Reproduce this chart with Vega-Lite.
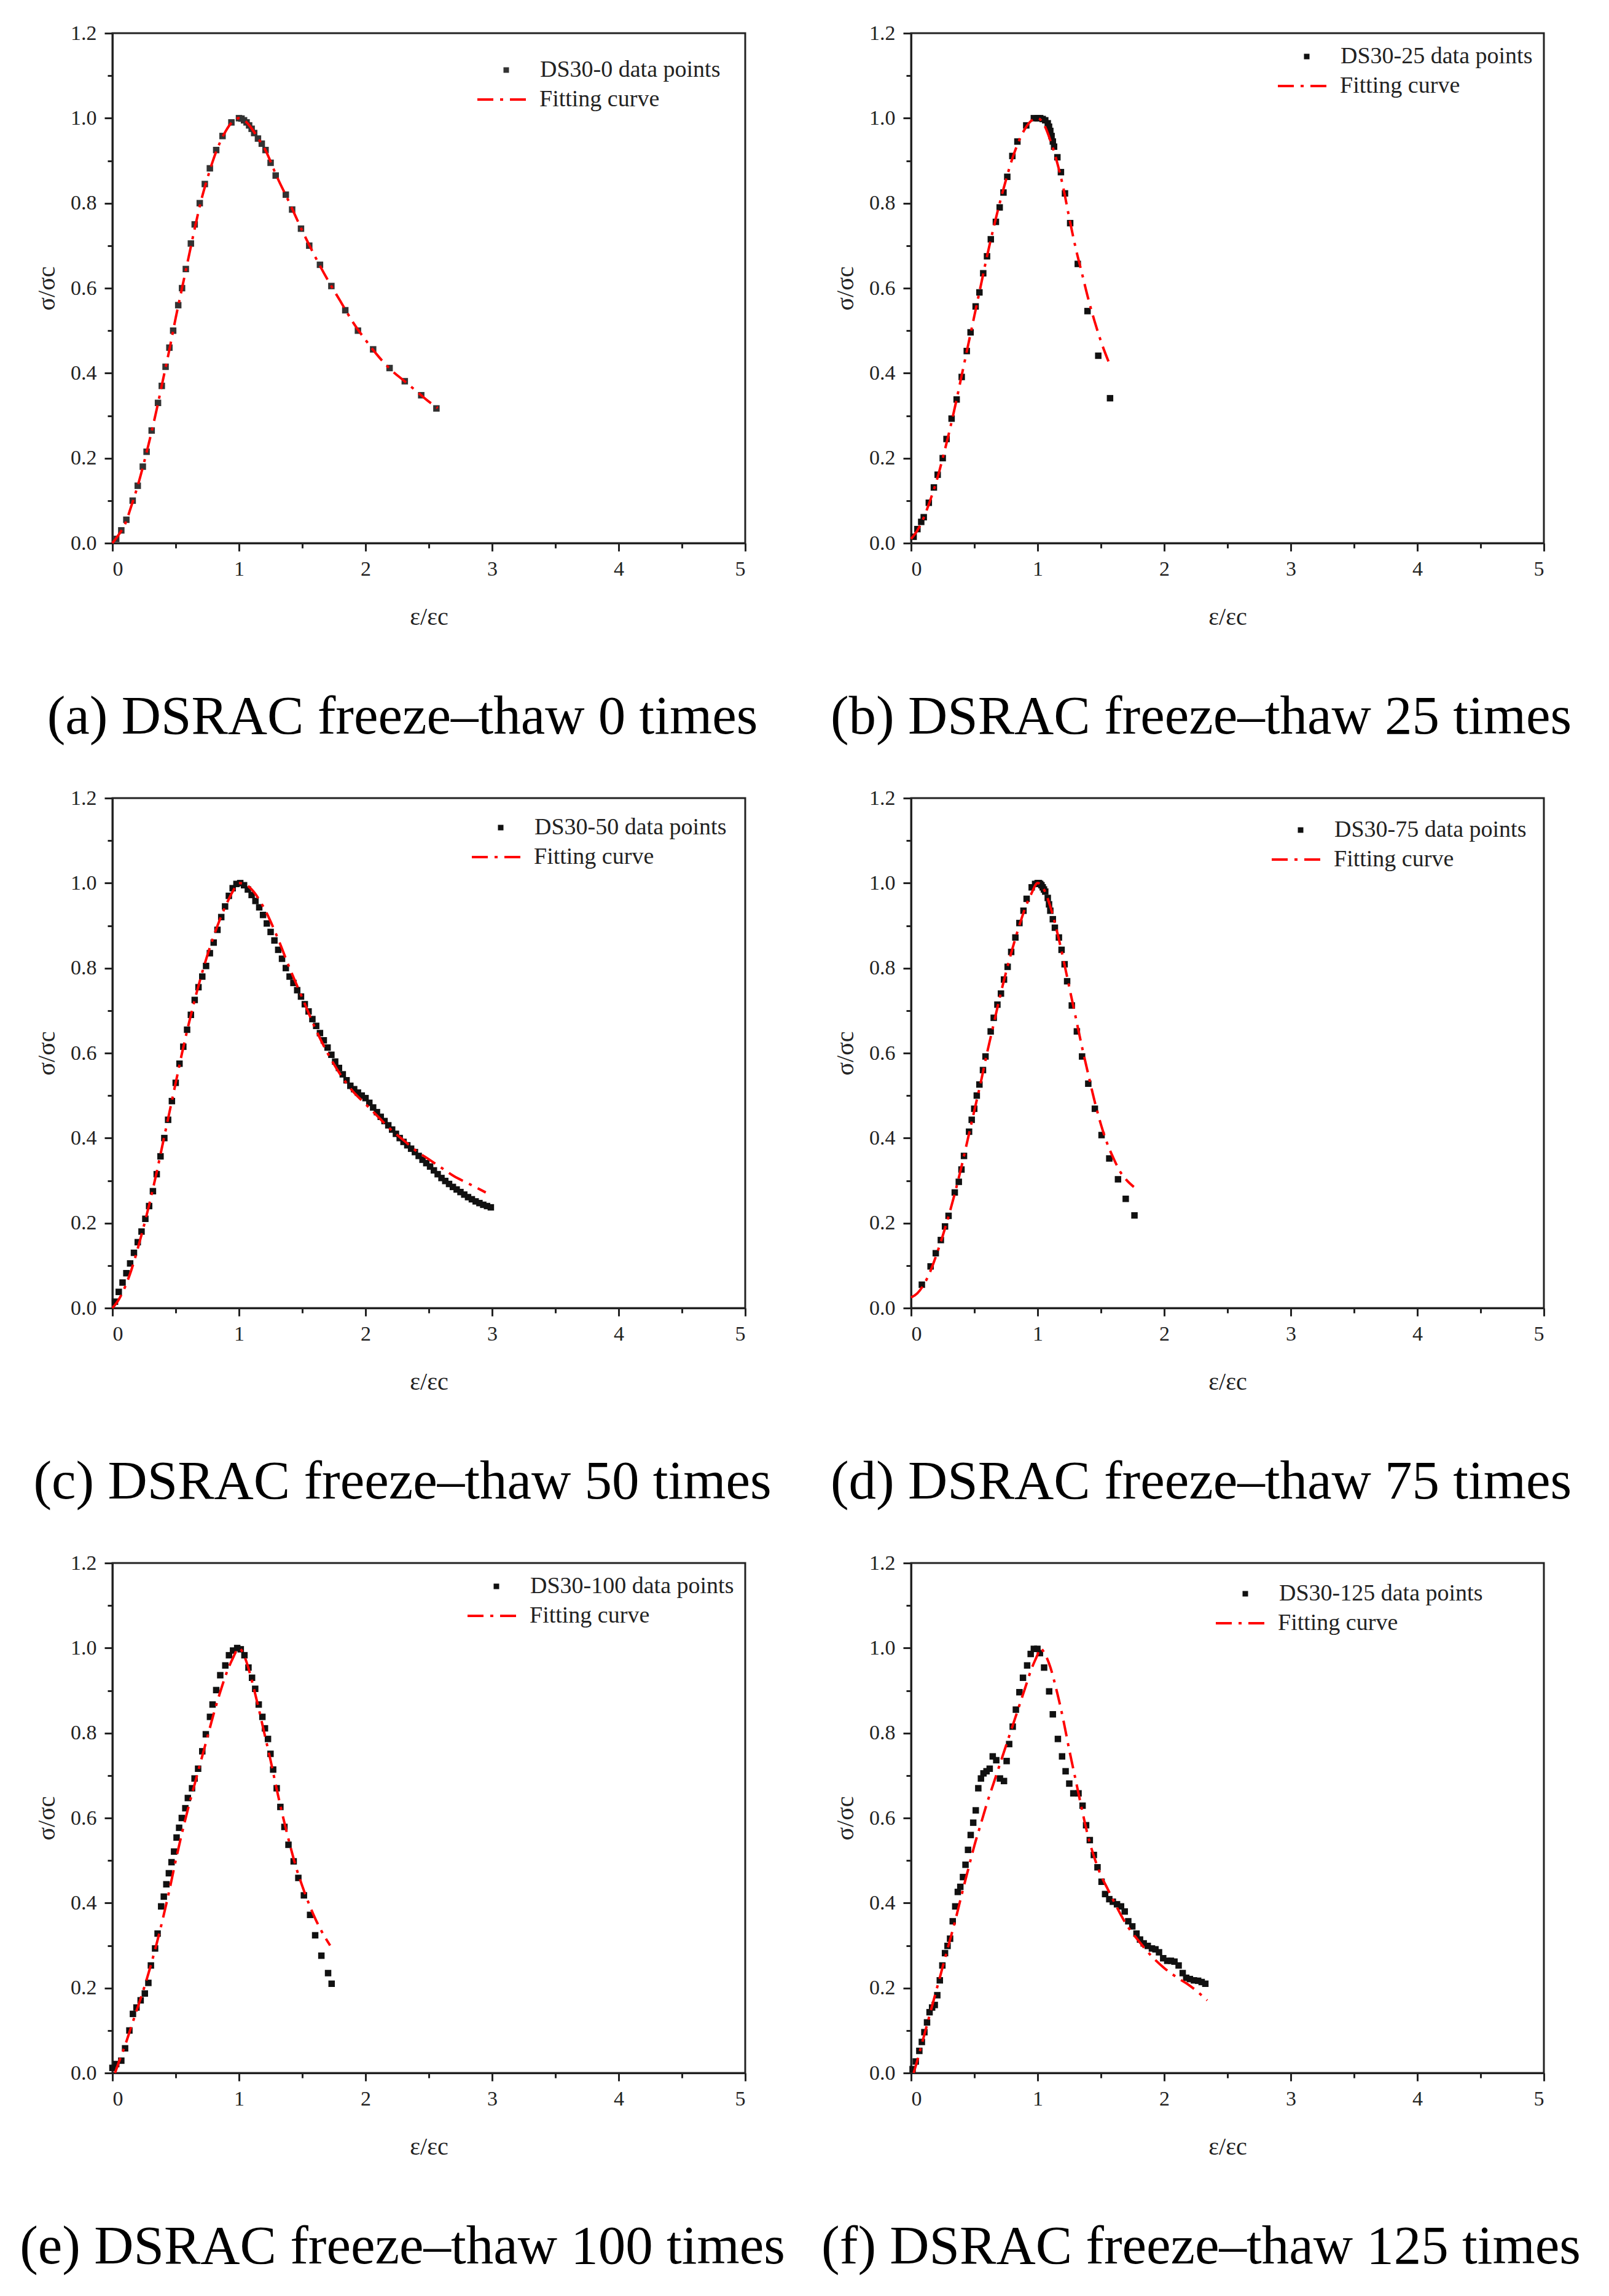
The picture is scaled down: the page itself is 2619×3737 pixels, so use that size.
{
  "$schema": "https://vega.github.io/schema/vega-lite/v6.json",
  "background": "white",
  "padding": {"left": 30, "top": 35, "right": 10, "bottom": 10},
  "datasets": {
    "a_pts": [
      {"x": 0.03, "y": 0.01}, {"x": 0.07, "y": 0.03}, {"x": 0.11, "y": 0.055}, {"x": 0.16, "y": 0.1}, {"x": 0.2, "y": 0.135},
      {"x": 0.24, "y": 0.18}, {"x": 0.27, "y": 0.215}, {"x": 0.31, "y": 0.265}, {"x": 0.36, "y": 0.33}, {"x": 0.39, "y": 0.37},
      {"x": 0.42, "y": 0.415}, {"x": 0.45, "y": 0.46}, {"x": 0.48, "y": 0.5}, {"x": 0.52, "y": 0.56}, {"x": 0.55, "y": 0.6},
      {"x": 0.58, "y": 0.645}, {"x": 0.62, "y": 0.705}, {"x": 0.65, "y": 0.75}, {"x": 0.69, "y": 0.8}, {"x": 0.73, "y": 0.845},
      {"x": 0.77, "y": 0.882}, {"x": 0.82, "y": 0.925}, {"x": 0.87, "y": 0.958}, {"x": 0.94, "y": 0.99}, {"x": 1.0, "y": 1.0},
      {"x": 1.02, "y": 0.999}, {"x": 1.04, "y": 0.995}, {"x": 1.06, "y": 0.99}, {"x": 1.08, "y": 0.983}, {"x": 1.1, "y": 0.975},
      {"x": 1.12, "y": 0.965}, {"x": 1.15, "y": 0.952}, {"x": 1.18, "y": 0.94}, {"x": 1.21, "y": 0.925}, {"x": 1.25, "y": 0.895},
      {"x": 1.29, "y": 0.865}, {"x": 1.37, "y": 0.82}, {"x": 1.42, "y": 0.785}, {"x": 1.49, "y": 0.74}, {"x": 1.555, "y": 0.7},
      {"x": 1.64, "y": 0.655}, {"x": 1.73, "y": 0.605}, {"x": 1.84, "y": 0.548}, {"x": 1.94, "y": 0.5}, {"x": 2.06, "y": 0.456},
      {"x": 2.19, "y": 0.412}, {"x": 2.31, "y": 0.381}, {"x": 2.44, "y": 0.348}, {"x": 2.56, "y": 0.317}
    ],
    "a_fit": [
      {"x": 0, "y": 0}, {"x": 0.05, "y": 0.02}, {"x": 0.1, "y": 0.045}, {"x": 0.15, "y": 0.088}, {"x": 0.2, "y": 0.135},
      {"x": 0.25, "y": 0.19}, {"x": 0.3, "y": 0.25}, {"x": 0.35, "y": 0.315}, {"x": 0.4, "y": 0.385}, {"x": 0.45, "y": 0.455},
      {"x": 0.5, "y": 0.53}, {"x": 0.55, "y": 0.6}, {"x": 0.6, "y": 0.67}, {"x": 0.65, "y": 0.74}, {"x": 0.7, "y": 0.805},
      {"x": 0.75, "y": 0.858}, {"x": 0.8, "y": 0.905}, {"x": 0.85, "y": 0.943}, {"x": 0.9, "y": 0.972}, {"x": 0.95, "y": 0.992},
      {"x": 1.0, "y": 1.0}, {"x": 1.05, "y": 0.993}, {"x": 1.1, "y": 0.976}, {"x": 1.15, "y": 0.953}, {"x": 1.2, "y": 0.93},
      {"x": 1.3, "y": 0.862}, {"x": 1.4, "y": 0.8}, {"x": 1.5, "y": 0.735}, {"x": 1.6, "y": 0.675}, {"x": 1.7, "y": 0.62},
      {"x": 1.8, "y": 0.57}, {"x": 1.9, "y": 0.52}, {"x": 2.0, "y": 0.478}, {"x": 2.1, "y": 0.44}, {"x": 2.2, "y": 0.408},
      {"x": 2.3, "y": 0.383}, {"x": 2.4, "y": 0.358}, {"x": 2.5, "y": 0.333}, {"x": 2.57, "y": 0.318}
    ],
    "b_pts": [
      {"x": 0.02, "y": 0.015}, {"x": 0.05, "y": 0.033}, {"x": 0.08, "y": 0.05}, {"x": 0.1, "y": 0.061}, {"x": 0.14, "y": 0.095},
      {"x": 0.18, "y": 0.131}, {"x": 0.21, "y": 0.161}, {"x": 0.25, "y": 0.2}, {"x": 0.28, "y": 0.245}, {"x": 0.32, "y": 0.293},
      {"x": 0.36, "y": 0.338}, {"x": 0.4, "y": 0.391}, {"x": 0.44, "y": 0.452}, {"x": 0.47, "y": 0.496}, {"x": 0.51, "y": 0.557},
      {"x": 0.54, "y": 0.59}, {"x": 0.57, "y": 0.635}, {"x": 0.6, "y": 0.675}, {"x": 0.63, "y": 0.715}, {"x": 0.67, "y": 0.756},
      {"x": 0.7, "y": 0.79}, {"x": 0.73, "y": 0.825}, {"x": 0.76, "y": 0.862}, {"x": 0.8, "y": 0.911}, {"x": 0.84, "y": 0.945},
      {"x": 0.91, "y": 0.983}, {"x": 0.97, "y": 1.0}, {"x": 1.0, "y": 1.0}, {"x": 1.02, "y": 1.0}, {"x": 1.04, "y": 0.998},
      {"x": 1.06, "y": 0.995}, {"x": 1.08, "y": 0.988}, {"x": 1.09, "y": 0.98}, {"x": 1.1, "y": 0.97}, {"x": 1.11, "y": 0.958},
      {"x": 1.12, "y": 0.945}, {"x": 1.13, "y": 0.933}, {"x": 1.156, "y": 0.908}, {"x": 1.184, "y": 0.873}, {"x": 1.216, "y": 0.823},
      {"x": 1.257, "y": 0.753}, {"x": 1.317, "y": 0.657}, {"x": 1.394, "y": 0.546}, {"x": 1.479, "y": 0.441}, {"x": 1.572, "y": 0.341}
    ],
    "b_fit": [
      {"x": 0, "y": 0.01}, {"x": 0.05, "y": 0.03}, {"x": 0.1, "y": 0.06}, {"x": 0.15, "y": 0.1}, {"x": 0.2, "y": 0.145},
      {"x": 0.25, "y": 0.2}, {"x": 0.3, "y": 0.26}, {"x": 0.35, "y": 0.325}, {"x": 0.4, "y": 0.395}, {"x": 0.45, "y": 0.465},
      {"x": 0.5, "y": 0.535}, {"x": 0.55, "y": 0.605}, {"x": 0.6, "y": 0.675}, {"x": 0.65, "y": 0.74}, {"x": 0.7, "y": 0.8},
      {"x": 0.75, "y": 0.855}, {"x": 0.8, "y": 0.905}, {"x": 0.85, "y": 0.945}, {"x": 0.9, "y": 0.975}, {"x": 0.95, "y": 0.994},
      {"x": 1.0, "y": 1.0}, {"x": 1.05, "y": 0.985}, {"x": 1.1, "y": 0.948}, {"x": 1.15, "y": 0.9}, {"x": 1.2, "y": 0.84},
      {"x": 1.25, "y": 0.765}, {"x": 1.3, "y": 0.695}, {"x": 1.35, "y": 0.635}, {"x": 1.4, "y": 0.575}, {"x": 1.45, "y": 0.522},
      {"x": 1.5, "y": 0.475}, {"x": 1.57, "y": 0.42}
    ],
    "c_pts": [
      {"x": 0.02, "y": 0.015}, {"x": 0.05, "y": 0.038}, {"x": 0.08, "y": 0.06}, {"x": 0.11, "y": 0.082}, {"x": 0.14, "y": 0.105},
      {"x": 0.17, "y": 0.13}, {"x": 0.2, "y": 0.155}, {"x": 0.23, "y": 0.18}, {"x": 0.26, "y": 0.21}, {"x": 0.29, "y": 0.24},
      {"x": 0.32, "y": 0.275}, {"x": 0.35, "y": 0.315}, {"x": 0.38, "y": 0.357}, {"x": 0.41, "y": 0.4}, {"x": 0.44, "y": 0.443},
      {"x": 0.47, "y": 0.487}, {"x": 0.5, "y": 0.53}, {"x": 0.53, "y": 0.575}, {"x": 0.56, "y": 0.615}, {"x": 0.59, "y": 0.655},
      {"x": 0.62, "y": 0.69}, {"x": 0.65, "y": 0.725}, {"x": 0.68, "y": 0.755}, {"x": 0.71, "y": 0.78}, {"x": 0.74, "y": 0.805},
      {"x": 0.77, "y": 0.835}, {"x": 0.8, "y": 0.86}, {"x": 0.83, "y": 0.89}, {"x": 0.86, "y": 0.92}, {"x": 0.89, "y": 0.945},
      {"x": 0.92, "y": 0.97}, {"x": 0.95, "y": 0.988}, {"x": 0.98, "y": 0.998}, {"x": 1.01, "y": 1.0}, {"x": 1.04, "y": 0.995},
      {"x": 1.07, "y": 0.985}, {"x": 1.1, "y": 0.972}, {"x": 1.13, "y": 0.958}, {"x": 1.16, "y": 0.943}, {"x": 1.19, "y": 0.925},
      {"x": 1.22, "y": 0.905}, {"x": 1.25, "y": 0.885}, {"x": 1.28, "y": 0.865}, {"x": 1.31, "y": 0.843}, {"x": 1.34, "y": 0.822},
      {"x": 1.37, "y": 0.8}, {"x": 1.4, "y": 0.78}, {"x": 1.43, "y": 0.765}, {"x": 1.46, "y": 0.748}, {"x": 1.49, "y": 0.733},
      {"x": 1.52, "y": 0.715}, {"x": 1.55, "y": 0.698}, {"x": 1.58, "y": 0.68}, {"x": 1.61, "y": 0.664}, {"x": 1.64, "y": 0.647},
      {"x": 1.67, "y": 0.63}, {"x": 1.7, "y": 0.613}, {"x": 1.73, "y": 0.596}, {"x": 1.76, "y": 0.58}, {"x": 1.79, "y": 0.565},
      {"x": 1.82, "y": 0.55}, {"x": 1.85, "y": 0.536}, {"x": 1.88, "y": 0.523}, {"x": 1.91, "y": 0.515}, {"x": 1.94, "y": 0.507},
      {"x": 1.97, "y": 0.5}, {"x": 2.0, "y": 0.494}, {"x": 2.03, "y": 0.483}, {"x": 2.06, "y": 0.472}, {"x": 2.09, "y": 0.461},
      {"x": 2.12, "y": 0.45}, {"x": 2.15, "y": 0.44}, {"x": 2.18, "y": 0.43}, {"x": 2.21, "y": 0.42}, {"x": 2.24, "y": 0.41},
      {"x": 2.27, "y": 0.4}, {"x": 2.3, "y": 0.391}, {"x": 2.33, "y": 0.383}, {"x": 2.36, "y": 0.375}, {"x": 2.39, "y": 0.367},
      {"x": 2.42, "y": 0.358}, {"x": 2.45, "y": 0.349}, {"x": 2.48, "y": 0.341}, {"x": 2.51, "y": 0.333}, {"x": 2.54, "y": 0.324},
      {"x": 2.57, "y": 0.315}, {"x": 2.6, "y": 0.306}, {"x": 2.63, "y": 0.299}, {"x": 2.66, "y": 0.292}, {"x": 2.69, "y": 0.285},
      {"x": 2.72, "y": 0.279}, {"x": 2.75, "y": 0.273}, {"x": 2.78, "y": 0.267}, {"x": 2.81, "y": 0.261}, {"x": 2.84, "y": 0.256},
      {"x": 2.87, "y": 0.251}, {"x": 2.9, "y": 0.247}, {"x": 2.93, "y": 0.243}, {"x": 2.96, "y": 0.24}, {"x": 2.99, "y": 0.237}
    ],
    "c_fit": [
      {"x": 0, "y": 0}, {"x": 0.05, "y": 0.02}, {"x": 0.1, "y": 0.05}, {"x": 0.15, "y": 0.09}, {"x": 0.2, "y": 0.14},
      {"x": 0.25, "y": 0.195}, {"x": 0.3, "y": 0.255}, {"x": 0.35, "y": 0.32}, {"x": 0.4, "y": 0.39}, {"x": 0.45, "y": 0.46},
      {"x": 0.5, "y": 0.53}, {"x": 0.55, "y": 0.6}, {"x": 0.6, "y": 0.665}, {"x": 0.65, "y": 0.725}, {"x": 0.7, "y": 0.78},
      {"x": 0.75, "y": 0.83}, {"x": 0.8, "y": 0.875}, {"x": 0.85, "y": 0.915}, {"x": 0.9, "y": 0.95}, {"x": 0.95, "y": 0.98},
      {"x": 1.0, "y": 1.0}, {"x": 1.05, "y": 0.997}, {"x": 1.1, "y": 0.985}, {"x": 1.2, "y": 0.94}, {"x": 1.3, "y": 0.875},
      {"x": 1.4, "y": 0.8}, {"x": 1.5, "y": 0.73}, {"x": 1.6, "y": 0.66}, {"x": 1.7, "y": 0.6}, {"x": 1.8, "y": 0.55},
      {"x": 1.9, "y": 0.51}, {"x": 2.0, "y": 0.48}, {"x": 2.1, "y": 0.45}, {"x": 2.2, "y": 0.42}, {"x": 2.3, "y": 0.395},
      {"x": 2.4, "y": 0.37}, {"x": 2.5, "y": 0.35}, {"x": 2.6, "y": 0.33}, {"x": 2.7, "y": 0.31}, {"x": 2.8, "y": 0.295},
      {"x": 2.95, "y": 0.272}
    ],
    "d_pts": [
      {"x": 0.085, "y": 0.055}, {"x": 0.154, "y": 0.098}, {"x": 0.195, "y": 0.129}, {"x": 0.235, "y": 0.16}, {"x": 0.268, "y": 0.192},
      {"x": 0.296, "y": 0.217}, {"x": 0.345, "y": 0.272}, {"x": 0.377, "y": 0.297}, {"x": 0.398, "y": 0.326}, {"x": 0.418, "y": 0.358},
      {"x": 0.458, "y": 0.415}, {"x": 0.479, "y": 0.443}, {"x": 0.499, "y": 0.469}, {"x": 0.519, "y": 0.5}, {"x": 0.54, "y": 0.526},
      {"x": 0.568, "y": 0.56}, {"x": 0.588, "y": 0.592}, {"x": 0.629, "y": 0.651}, {"x": 0.653, "y": 0.683}, {"x": 0.682, "y": 0.714},
      {"x": 0.71, "y": 0.74}, {"x": 0.734, "y": 0.773}, {"x": 0.763, "y": 0.803}, {"x": 0.791, "y": 0.838}, {"x": 0.824, "y": 0.872},
      {"x": 0.856, "y": 0.906}, {"x": 0.888, "y": 0.935}, {"x": 0.913, "y": 0.963}, {"x": 0.953, "y": 0.99}, {"x": 0.98, "y": 0.998},
      {"x": 1.0, "y": 1.0}, {"x": 1.01, "y": 1.0}, {"x": 1.02, "y": 0.998}, {"x": 1.03, "y": 0.995}, {"x": 1.04, "y": 0.99},
      {"x": 1.05, "y": 0.985}, {"x": 1.06, "y": 0.98}, {"x": 1.08, "y": 0.965}, {"x": 1.09, "y": 0.95}, {"x": 1.1, "y": 0.935},
      {"x": 1.12, "y": 0.915}, {"x": 1.136, "y": 0.895}, {"x": 1.168, "y": 0.872}, {"x": 1.189, "y": 0.843}, {"x": 1.213, "y": 0.809},
      {"x": 1.233, "y": 0.769}, {"x": 1.27, "y": 0.712}, {"x": 1.31, "y": 0.651}, {"x": 1.351, "y": 0.592}, {"x": 1.4, "y": 0.528},
      {"x": 1.452, "y": 0.469}, {"x": 1.505, "y": 0.407}, {"x": 1.566, "y": 0.352}, {"x": 1.635, "y": 0.303}, {"x": 1.696, "y": 0.257},
      {"x": 1.765, "y": 0.218}
    ],
    "d_fit": [
      {"x": 0, "y": 0.025}, {"x": 0.05, "y": 0.035}, {"x": 0.1, "y": 0.055}, {"x": 0.15, "y": 0.085}, {"x": 0.2, "y": 0.125},
      {"x": 0.25, "y": 0.17}, {"x": 0.3, "y": 0.22}, {"x": 0.35, "y": 0.275}, {"x": 0.4, "y": 0.335}, {"x": 0.45, "y": 0.4},
      {"x": 0.5, "y": 0.465}, {"x": 0.55, "y": 0.53}, {"x": 0.6, "y": 0.6}, {"x": 0.65, "y": 0.665}, {"x": 0.7, "y": 0.73},
      {"x": 0.75, "y": 0.79}, {"x": 0.8, "y": 0.845}, {"x": 0.85, "y": 0.895}, {"x": 0.9, "y": 0.94}, {"x": 0.95, "y": 0.975},
      {"x": 1.0, "y": 1.0}, {"x": 1.05, "y": 0.985}, {"x": 1.1, "y": 0.945}, {"x": 1.15, "y": 0.89}, {"x": 1.2, "y": 0.825},
      {"x": 1.25, "y": 0.755}, {"x": 1.3, "y": 0.685}, {"x": 1.35, "y": 0.615}, {"x": 1.4, "y": 0.55}, {"x": 1.45, "y": 0.487},
      {"x": 1.5, "y": 0.432}, {"x": 1.55, "y": 0.387}, {"x": 1.6, "y": 0.352}, {"x": 1.65, "y": 0.322}, {"x": 1.7, "y": 0.302},
      {"x": 1.76, "y": 0.285}
    ],
    "e_pts": [
      {"x": 0.0, "y": 0.012}, {"x": 0.03, "y": 0.021}, {"x": 0.07, "y": 0.029}, {"x": 0.1, "y": 0.058}, {"x": 0.134, "y": 0.1},
      {"x": 0.162, "y": 0.139}, {"x": 0.19, "y": 0.154}, {"x": 0.223, "y": 0.171}, {"x": 0.256, "y": 0.187}, {"x": 0.284, "y": 0.212},
      {"x": 0.304, "y": 0.253}, {"x": 0.337, "y": 0.293}, {"x": 0.357, "y": 0.328}, {"x": 0.385, "y": 0.392}, {"x": 0.406, "y": 0.415},
      {"x": 0.426, "y": 0.444}, {"x": 0.446, "y": 0.47}, {"x": 0.467, "y": 0.496}, {"x": 0.487, "y": 0.521}, {"x": 0.507, "y": 0.554},
      {"x": 0.527, "y": 0.577}, {"x": 0.548, "y": 0.6}, {"x": 0.576, "y": 0.623}, {"x": 0.596, "y": 0.647}, {"x": 0.629, "y": 0.67},
      {"x": 0.649, "y": 0.693}, {"x": 0.677, "y": 0.716}, {"x": 0.71, "y": 0.757}, {"x": 0.738, "y": 0.797}, {"x": 0.771, "y": 0.838},
      {"x": 0.791, "y": 0.867}, {"x": 0.82, "y": 0.901}, {"x": 0.852, "y": 0.936}, {"x": 0.892, "y": 0.959}, {"x": 0.921, "y": 0.983},
      {"x": 0.953, "y": 0.994}, {"x": 0.986, "y": 1.0}, {"x": 1.014, "y": 0.997}, {"x": 1.043, "y": 0.983}, {"x": 1.075, "y": 0.954},
      {"x": 1.103, "y": 0.93}, {"x": 1.128, "y": 0.904}, {"x": 1.156, "y": 0.867}, {"x": 1.185, "y": 0.838}, {"x": 1.205, "y": 0.811},
      {"x": 1.229, "y": 0.786}, {"x": 1.249, "y": 0.751}, {"x": 1.27, "y": 0.714}, {"x": 1.298, "y": 0.67}, {"x": 1.327, "y": 0.626},
      {"x": 1.359, "y": 0.579}, {"x": 1.391, "y": 0.537}, {"x": 1.432, "y": 0.498}, {"x": 1.469, "y": 0.459}, {"x": 1.513, "y": 0.418},
      {"x": 1.562, "y": 0.372}, {"x": 1.602, "y": 0.324}, {"x": 1.651, "y": 0.276}, {"x": 1.704, "y": 0.235}, {"x": 1.732, "y": 0.21}
    ],
    "e_fit": [
      {"x": 0.02, "y": 0.0}, {"x": 0.05, "y": 0.025}, {"x": 0.1, "y": 0.065}, {"x": 0.15, "y": 0.11}, {"x": 0.2, "y": 0.155},
      {"x": 0.25, "y": 0.2}, {"x": 0.3, "y": 0.25}, {"x": 0.35, "y": 0.305}, {"x": 0.4, "y": 0.365}, {"x": 0.45, "y": 0.43},
      {"x": 0.5, "y": 0.5}, {"x": 0.55, "y": 0.565}, {"x": 0.6, "y": 0.625}, {"x": 0.65, "y": 0.68}, {"x": 0.7, "y": 0.735},
      {"x": 0.75, "y": 0.79}, {"x": 0.8, "y": 0.845}, {"x": 0.85, "y": 0.895}, {"x": 0.9, "y": 0.94}, {"x": 0.95, "y": 0.975},
      {"x": 1.0, "y": 1.0}, {"x": 1.05, "y": 0.975}, {"x": 1.1, "y": 0.925}, {"x": 1.15, "y": 0.865}, {"x": 1.2, "y": 0.8},
      {"x": 1.25, "y": 0.735}, {"x": 1.3, "y": 0.665}, {"x": 1.35, "y": 0.6}, {"x": 1.4, "y": 0.54}, {"x": 1.45, "y": 0.485},
      {"x": 1.5, "y": 0.44}, {"x": 1.55, "y": 0.4}, {"x": 1.6, "y": 0.365}, {"x": 1.65, "y": 0.335}, {"x": 1.72, "y": 0.3}
    ],
    "f_pts": [
      {"x": 0.012, "y": 0.009}, {"x": 0.037, "y": 0.027}, {"x": 0.065, "y": 0.052}, {"x": 0.085, "y": 0.073}, {"x": 0.105, "y": 0.096},
      {"x": 0.126, "y": 0.119}, {"x": 0.146, "y": 0.143}, {"x": 0.166, "y": 0.154}, {"x": 0.187, "y": 0.16}, {"x": 0.207, "y": 0.183},
      {"x": 0.227, "y": 0.218}, {"x": 0.247, "y": 0.253}, {"x": 0.268, "y": 0.282}, {"x": 0.288, "y": 0.299}, {"x": 0.308, "y": 0.316},
      {"x": 0.329, "y": 0.357}, {"x": 0.349, "y": 0.392}, {"x": 0.369, "y": 0.426}, {"x": 0.389, "y": 0.438}, {"x": 0.41, "y": 0.461},
      {"x": 0.43, "y": 0.49}, {"x": 0.45, "y": 0.525}, {"x": 0.471, "y": 0.56}, {"x": 0.491, "y": 0.589}, {"x": 0.511, "y": 0.618},
      {"x": 0.531, "y": 0.67}, {"x": 0.552, "y": 0.693}, {"x": 0.572, "y": 0.705}, {"x": 0.596, "y": 0.71}, {"x": 0.621, "y": 0.716},
      {"x": 0.645, "y": 0.745}, {"x": 0.673, "y": 0.736}, {"x": 0.702, "y": 0.693}, {"x": 0.734, "y": 0.687}, {"x": 0.755, "y": 0.734},
      {"x": 0.775, "y": 0.774}, {"x": 0.803, "y": 0.815}, {"x": 0.828, "y": 0.855}, {"x": 0.856, "y": 0.896}, {"x": 0.884, "y": 0.93},
      {"x": 0.917, "y": 0.959}, {"x": 0.945, "y": 0.986}, {"x": 0.97, "y": 0.998}, {"x": 0.998, "y": 0.998}, {"x": 1.018, "y": 0.988},
      {"x": 1.051, "y": 0.954}, {"x": 1.091, "y": 0.898}, {"x": 1.12, "y": 0.844}, {"x": 1.16, "y": 0.786}, {"x": 1.193, "y": 0.745},
      {"x": 1.221, "y": 0.71}, {"x": 1.25, "y": 0.681}, {"x": 1.282, "y": 0.658}, {"x": 1.323, "y": 0.658}, {"x": 1.355, "y": 0.629},
      {"x": 1.383, "y": 0.583}, {"x": 1.412, "y": 0.548}, {"x": 1.444, "y": 0.513}, {"x": 1.473, "y": 0.484}, {"x": 1.505, "y": 0.45},
      {"x": 1.533, "y": 0.421}, {"x": 1.566, "y": 0.409}, {"x": 1.594, "y": 0.403}, {"x": 1.627, "y": 0.397}, {"x": 1.659, "y": 0.392},
      {"x": 1.688, "y": 0.38}, {"x": 1.716, "y": 0.357}, {"x": 1.748, "y": 0.345}, {"x": 1.781, "y": 0.328}, {"x": 1.809, "y": 0.314},
      {"x": 1.838, "y": 0.305}, {"x": 1.87, "y": 0.299}, {"x": 1.903, "y": 0.293}, {"x": 1.931, "y": 0.291}, {"x": 1.959, "y": 0.284},
      {"x": 1.992, "y": 0.27}, {"x": 2.024, "y": 0.264}, {"x": 2.053, "y": 0.264}, {"x": 2.081, "y": 0.262}, {"x": 2.114, "y": 0.253},
      {"x": 2.146, "y": 0.235}, {"x": 2.174, "y": 0.224}, {"x": 2.203, "y": 0.221}, {"x": 2.235, "y": 0.218}, {"x": 2.268, "y": 0.217},
      {"x": 2.296, "y": 0.214}, {"x": 2.325, "y": 0.21}
    ],
    "f_fit": [
      {"x": 0.02, "y": 0.0}, {"x": 0.05, "y": 0.03}, {"x": 0.1, "y": 0.085}, {"x": 0.15, "y": 0.14}, {"x": 0.2, "y": 0.195},
      {"x": 0.25, "y": 0.25}, {"x": 0.3, "y": 0.305}, {"x": 0.35, "y": 0.36}, {"x": 0.4, "y": 0.42}, {"x": 0.45, "y": 0.478},
      {"x": 0.5, "y": 0.535}, {"x": 0.55, "y": 0.585}, {"x": 0.6, "y": 0.635}, {"x": 0.65, "y": 0.68}, {"x": 0.7, "y": 0.725},
      {"x": 0.75, "y": 0.77}, {"x": 0.8, "y": 0.815}, {"x": 0.85, "y": 0.86}, {"x": 0.9, "y": 0.905}, {"x": 0.95, "y": 0.95},
      {"x": 1.0, "y": 0.985}, {"x": 1.02, "y": 1.0}, {"x": 1.05, "y": 0.99}, {"x": 1.1, "y": 0.955}, {"x": 1.15, "y": 0.9},
      {"x": 1.2, "y": 0.835}, {"x": 1.25, "y": 0.76}, {"x": 1.3, "y": 0.69}, {"x": 1.35, "y": 0.62}, {"x": 1.4, "y": 0.555},
      {"x": 1.45, "y": 0.505}, {"x": 1.5, "y": 0.465}, {"x": 1.55, "y": 0.435}, {"x": 1.6, "y": 0.405}, {"x": 1.7, "y": 0.35},
      {"x": 1.8, "y": 0.31}, {"x": 1.9, "y": 0.275}, {"x": 2.0, "y": 0.247}, {"x": 2.1, "y": 0.225}, {"x": 2.2, "y": 0.206},
      {"x": 2.34, "y": 0.171}
    ]
  },
  "columns": 2,
  "bounds": "flush",
  "spacing": {"row": 415, "column": 270},
  "concat": [
    {
      "width": 1030, "height": 830,
      "title": "(a) DSRAC freeze–thaw 0 times",
      "layer": [
        {
          "data": {"name": "a_pts"},
          "mark": {"type": "point", "filled": true, "size": 110, "color": "#333", "opacity": 1},
          "encoding": {
            "x": {"field": "x", "type": "quantitative", "scale": {"domain": [0, 5], "nice": false}, "axis": {"values": [0, 1, 2, 3, 4, 5], "format": "d", "title": "ε/εc"}},
            "y": {"field": "y", "type": "quantitative", "scale": {"domain": [0, 1.2], "nice": false}, "axis": {"values": [0, 0.2, 0.4, 0.6, 0.8, 1.0, 1.2], "format": ".1f", "title": "σ/σc"}},
            "shape": {"datum": "DS30-0 data points", "type": "nominal", "scale": {"domain": ["DS30-0 data points"], "range": ["square"]}, "legend": {"orient": "none", "legendX": 622, "legendY": 41, "title": null, "symbolType": "square", "symbolSize": 81, "symbolFillColor": "#333", "symbolStrokeWidth": 0, "labelOffset": 36}}
          }
        },
        {
          "data": {"name": "a_fit"},
          "mark": {"type": "line", "color": "red", "strokeWidth": 4, "interpolate": "monotone"},
          "encoding": {
            "x": {"field": "x", "type": "quantitative", "axis": {"values": [0.5, 1.5, 2.5, 3.5, 4.5], "labels": false, "domain": false, "title": null, "tickSize": 8, "orient": "bottom"}},
            "y": {"field": "y", "type": "quantitative", "axis": {"values": [0.1, 0.3, 0.5, 0.7, 0.9, 1.1], "labels": false, "domain": false, "title": null, "tickSize": 8, "orient": "left"}},
            "strokeDash": {"datum": "Fitting curve", "type": "nominal", "scale": {"domain": ["Fitting curve"], "range": [[26, 11, 5, 11]]}, "legend": {"orient": "none", "legendX": 592, "legendY": 66, "title": null, "symbolType": "stroke", "symbolSize": 6400, "symbolStrokeWidth": 4, "symbolStrokeColor": "red", "labelOffset": 19}}
          }
        }
      ],
      "resolve": {"axis": {"x": "independent", "y": "independent"}}
    },
    {
      "width": 1030, "height": 830,
      "title": "(b) DSRAC freeze–thaw 25 times",
      "layer": [
        {
          "data": {"name": "b_pts"},
          "mark": {"type": "point", "filled": true, "size": 110, "color": "#111", "opacity": 1},
          "encoding": {
            "x": {"field": "x", "type": "quantitative", "scale": {"domain": [0, 5], "nice": false}, "axis": {"values": [0, 1, 2, 3, 4, 5], "format": "d", "title": "ε/εc"}},
            "y": {"field": "y", "type": "quantitative", "scale": {"domain": [0, 1.2], "nice": false}, "axis": {"values": [0, 0.2, 0.4, 0.6, 0.8, 1.0, 1.2], "format": ".1f", "title": "σ/σc"}},
            "shape": {"datum": "DS30-25 data points", "type": "nominal", "scale": {"domain": ["DS30-25 data points"], "range": ["square"]}, "legend": {"orient": "none", "legendX": 625, "legendY": 19, "title": null, "symbolType": "square", "symbolSize": 81, "symbolFillColor": "#111", "symbolStrokeWidth": 0, "labelOffset": 36}}
          }
        },
        {
          "data": {"name": "b_fit"},
          "mark": {"type": "line", "color": "red", "strokeWidth": 4, "interpolate": "monotone"},
          "encoding": {
            "x": {"field": "x", "type": "quantitative", "axis": {"values": [0.5, 1.5, 2.5, 3.5, 4.5], "labels": false, "domain": false, "title": null, "tickSize": 8, "orient": "bottom"}},
            "y": {"field": "y", "type": "quantitative", "axis": {"values": [0.1, 0.3, 0.5, 0.7, 0.9, 1.1], "labels": false, "domain": false, "title": null, "tickSize": 8, "orient": "left"}},
            "strokeDash": {"datum": "Fitting curve", "type": "nominal", "scale": {"domain": ["Fitting curve"], "range": [[26, 11, 5, 11]]}, "legend": {"orient": "none", "legendX": 595, "legendY": 44, "title": null, "symbolType": "stroke", "symbolSize": 6400, "symbolStrokeWidth": 4, "symbolStrokeColor": "red", "labelOffset": 19}}
          }
        }
      ],
      "resolve": {"axis": {"x": "independent", "y": "independent"}}
    },
    {
      "width": 1030, "height": 830,
      "title": "(c) DSRAC freeze–thaw 50 times",
      "layer": [
        {
          "data": {"name": "c_pts"},
          "mark": {"type": "point", "filled": true, "size": 110, "color": "#111", "opacity": 1},
          "encoding": {
            "x": {"field": "x", "type": "quantitative", "scale": {"domain": [0, 5], "nice": false}, "axis": {"values": [0, 1, 2, 3, 4, 5], "format": "d", "title": "ε/εc"}},
            "y": {"field": "y", "type": "quantitative", "scale": {"domain": [0, 1.2], "nice": false}, "axis": {"values": [0, 0.2, 0.4, 0.6, 0.8, 1.0, 1.2], "format": ".1f", "title": "σ/σc"}},
            "shape": {"datum": "DS30-50 data points", "type": "nominal", "scale": {"domain": ["DS30-50 data points"], "range": ["square"]}, "legend": {"orient": "none", "legendX": 613, "legendY": 29, "title": null, "symbolType": "square", "symbolSize": 81, "symbolFillColor": "#111", "symbolStrokeWidth": 0, "labelOffset": 36}}
          }
        },
        {
          "data": {"name": "c_fit"},
          "mark": {"type": "line", "color": "red", "strokeWidth": 4, "interpolate": "monotone"},
          "encoding": {
            "x": {"field": "x", "type": "quantitative", "axis": {"values": [0.5, 1.5, 2.5, 3.5, 4.5], "labels": false, "domain": false, "title": null, "tickSize": 8, "orient": "bottom"}},
            "y": {"field": "y", "type": "quantitative", "axis": {"values": [0.1, 0.3, 0.5, 0.7, 0.9, 1.1], "labels": false, "domain": false, "title": null, "tickSize": 8, "orient": "left"}},
            "strokeDash": {"datum": "Fitting curve", "type": "nominal", "scale": {"domain": ["Fitting curve"], "range": [[26, 11, 5, 11]]}, "legend": {"orient": "none", "legendX": 583, "legendY": 54, "title": null, "symbolType": "stroke", "symbolSize": 6400, "symbolStrokeWidth": 4, "symbolStrokeColor": "red", "labelOffset": 19}}
          }
        }
      ],
      "resolve": {"axis": {"x": "independent", "y": "independent"}}
    },
    {
      "width": 1030, "height": 830,
      "title": "(d) DSRAC freeze–thaw 75 times",
      "layer": [
        {
          "data": {"name": "d_pts"},
          "mark": {"type": "point", "filled": true, "size": 110, "color": "#111", "opacity": 1},
          "encoding": {
            "x": {"field": "x", "type": "quantitative", "scale": {"domain": [0, 5], "nice": false}, "axis": {"values": [0, 1, 2, 3, 4, 5], "format": "d", "title": "ε/εc"}},
            "y": {"field": "y", "type": "quantitative", "scale": {"domain": [0, 1.2], "nice": false}, "axis": {"values": [0, 0.2, 0.4, 0.6, 0.8, 1.0, 1.2], "format": ".1f", "title": "σ/σc"}},
            "shape": {"datum": "DS30-75 data points", "type": "nominal", "scale": {"domain": ["DS30-75 data points"], "range": ["square"]}, "legend": {"orient": "none", "legendX": 615, "legendY": 33, "title": null, "symbolType": "square", "symbolSize": 81, "symbolFillColor": "#111", "symbolStrokeWidth": 0, "labelOffset": 36}}
          }
        },
        {
          "data": {"name": "d_fit"},
          "mark": {"type": "line", "color": "red", "strokeWidth": 4, "interpolate": "monotone"},
          "encoding": {
            "x": {"field": "x", "type": "quantitative", "axis": {"values": [0.5, 1.5, 2.5, 3.5, 4.5], "labels": false, "domain": false, "title": null, "tickSize": 8, "orient": "bottom"}},
            "y": {"field": "y", "type": "quantitative", "axis": {"values": [0.1, 0.3, 0.5, 0.7, 0.9, 1.1], "labels": false, "domain": false, "title": null, "tickSize": 8, "orient": "left"}},
            "strokeDash": {"datum": "Fitting curve", "type": "nominal", "scale": {"domain": ["Fitting curve"], "range": [[26, 11, 5, 11]]}, "legend": {"orient": "none", "legendX": 585, "legendY": 58, "title": null, "symbolType": "stroke", "symbolSize": 6400, "symbolStrokeWidth": 4, "symbolStrokeColor": "red", "labelOffset": 19}}
          }
        }
      ],
      "resolve": {"axis": {"x": "independent", "y": "independent"}}
    },
    {
      "width": 1030, "height": 830,
      "title": "(e) DSRAC freeze–thaw 100 times",
      "layer": [
        {
          "data": {"name": "e_pts"},
          "mark": {"type": "point", "filled": true, "size": 110, "color": "#111", "opacity": 1},
          "encoding": {
            "x": {"field": "x", "type": "quantitative", "scale": {"domain": [0, 5], "nice": false}, "axis": {"values": [0, 1, 2, 3, 4, 5], "format": "d", "title": "ε/εc"}},
            "y": {"field": "y", "type": "quantitative", "scale": {"domain": [0, 1.2], "nice": false}, "axis": {"values": [0, 0.2, 0.4, 0.6, 0.8, 1.0, 1.2], "format": ".1f", "title": "σ/σc"}},
            "shape": {"datum": "DS30-100 data points", "type": "nominal", "scale": {"domain": ["DS30-100 data points"], "range": ["square"]}, "legend": {"orient": "none", "legendX": 606, "legendY": 19, "title": null, "symbolType": "square", "symbolSize": 81, "symbolFillColor": "#111", "symbolStrokeWidth": 0, "labelOffset": 36}}
          }
        },
        {
          "data": {"name": "e_fit"},
          "mark": {"type": "line", "color": "red", "strokeWidth": 4, "interpolate": "monotone"},
          "encoding": {
            "x": {"field": "x", "type": "quantitative", "axis": {"values": [0.5, 1.5, 2.5, 3.5, 4.5], "labels": false, "domain": false, "title": null, "tickSize": 8, "orient": "bottom"}},
            "y": {"field": "y", "type": "quantitative", "axis": {"values": [0.1, 0.3, 0.5, 0.7, 0.9, 1.1], "labels": false, "domain": false, "title": null, "tickSize": 8, "orient": "left"}},
            "strokeDash": {"datum": "Fitting curve", "type": "nominal", "scale": {"domain": ["Fitting curve"], "range": [[26, 11, 5, 11]]}, "legend": {"orient": "none", "legendX": 576, "legendY": 44, "title": null, "symbolType": "stroke", "symbolSize": 6400, "symbolStrokeWidth": 4, "symbolStrokeColor": "red", "labelOffset": 19}}
          }
        }
      ],
      "resolve": {"axis": {"x": "independent", "y": "independent"}}
    },
    {
      "width": 1030, "height": 830,
      "title": "(f) DSRAC freeze–thaw 125 times",
      "layer": [
        {
          "data": {"name": "f_pts"},
          "mark": {"type": "point", "filled": true, "size": 110, "color": "#111", "opacity": 1},
          "encoding": {
            "x": {"field": "x", "type": "quantitative", "scale": {"domain": [0, 5], "nice": false}, "axis": {"values": [0, 1, 2, 3, 4, 5], "format": "d", "title": "ε/εc"}},
            "y": {"field": "y", "type": "quantitative", "scale": {"domain": [0, 1.2], "nice": false}, "axis": {"values": [0, 0.2, 0.4, 0.6, 0.8, 1.0, 1.2], "format": ".1f", "title": "σ/σc"}},
            "shape": {"datum": "DS30-125 data points", "type": "nominal", "scale": {"domain": ["DS30-125 data points"], "range": ["square"]}, "legend": {"orient": "none", "legendX": 525, "legendY": 31, "title": null, "symbolType": "square", "symbolSize": 81, "symbolFillColor": "#111", "symbolStrokeWidth": 0, "labelOffset": 36}}
          }
        },
        {
          "data": {"name": "f_fit"},
          "mark": {"type": "line", "color": "red", "strokeWidth": 4, "interpolate": "monotone"},
          "encoding": {
            "x": {"field": "x", "type": "quantitative", "axis": {"values": [0.5, 1.5, 2.5, 3.5, 4.5], "labels": false, "domain": false, "title": null, "tickSize": 8, "orient": "bottom"}},
            "y": {"field": "y", "type": "quantitative", "axis": {"values": [0.1, 0.3, 0.5, 0.7, 0.9, 1.1], "labels": false, "domain": false, "title": null, "tickSize": 8, "orient": "left"}},
            "strokeDash": {"datum": "Fitting curve", "type": "nominal", "scale": {"domain": ["Fitting curve"], "range": [[26, 11, 5, 11]]}, "legend": {"orient": "none", "legendX": 494, "legendY": 56, "title": null, "symbolType": "stroke", "symbolSize": 6400, "symbolStrokeWidth": 4, "symbolStrokeColor": "red", "labelOffset": 19}}
          }
        }
      ],
      "resolve": {"axis": {"x": "independent", "y": "independent"}}
    }
  ],
  "resolve": {
    "scale": {"x": "independent", "y": "independent", "shape": "independent", "strokeDash": "independent"},
    "legend": {"shape": "independent", "strokeDash": "independent"}
  },
  "config": {
    "view": {"stroke": "#222", "strokeWidth": 3},
    "axis": {
      "grid": false,
      "domainColor": "#222",
      "domainWidth": 3,
      "tickColor": "#222",
      "tickWidth": 3,
      "tickSize": 13,
      "labelFont": "Liberation Serif",
      "labelFontSize": 34,
      "labelColor": "#222",
      "titleFont": "Liberation Serif",
      "titleFontSize": 40,
      "titleFontWeight": "normal",
      "titleColor": "#222"
    },
    "axisX": {"labelPadding": 12, "titlePadding": 41},
    "axisY": {"labelPadding": 13, "titlePadding": 18},
    "legend": {"labelFont": "Liberation Serif", "labelFontSize": 38, "labelColor": "#222", "labelLimit": 0, "padding": 0},
    "title": {"orient": "bottom", "offset": 100, "dx": -43, "font": "Liberation Serif", "fontSize": 89, "fontWeight": "normal", "color": "black", "anchor": "middle"}
  }
}
